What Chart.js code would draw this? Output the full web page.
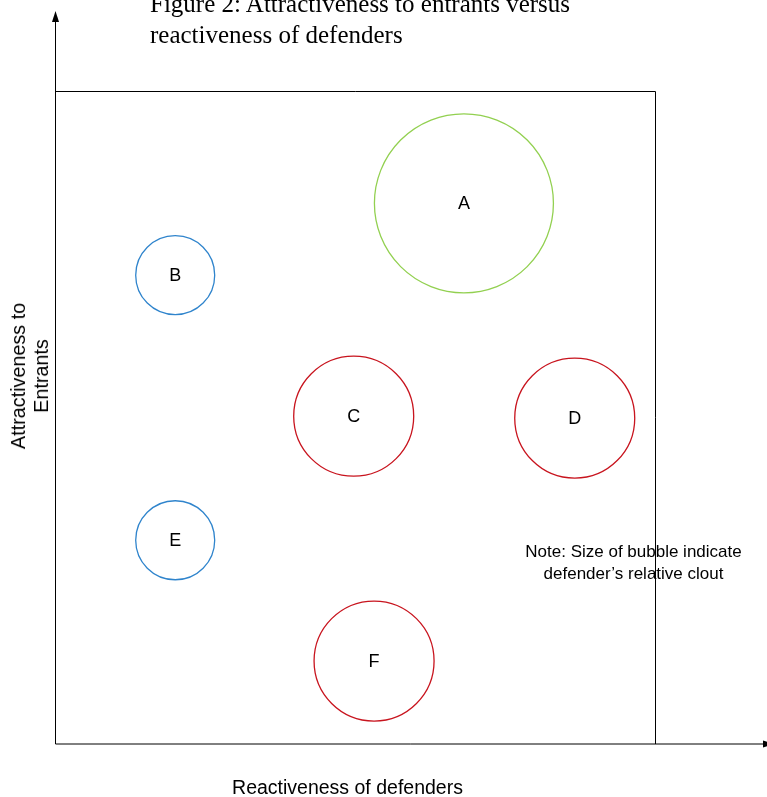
<!DOCTYPE html>
<html>
<head>
<meta charset="utf-8">
<script src="https://cdn.jsdelivr.net/npm/chart.js@4"></script>
<style>
  html, body { margin: 0; padding: 0; background: #ffffff; }
  #wrap { position: relative; width: 767px; height: 797px; overflow: hidden; background: #fff; }
  #chart { position: absolute; left: 0; top: 0; }
  .txt { position: absolute; color: #000; white-space: nowrap; }
  #title { left: 150px; top: -12px; font: 25px "Liberation Serif", "Times New Roman", serif; line-height: 31px; }
  #note { left: 633.5px; top: 541px; transform: translateX(-50%); font: 17px "Liberation Sans", Arial, sans-serif; line-height: 22px; text-align: center; }
  #xtitle { left: 347.5px; top: 775px; transform: translateX(-50%); font: 19.5px "Liberation Sans", Arial, sans-serif; line-height: 24px; }
  #ytitle { left: 30px; top: 376px; transform: translate(-50%, -50%) rotate(-90deg); font: 19.8px "Liberation Sans", Arial, sans-serif; line-height: 23px; text-align: center; }
</style>
</head>
<body>
<div id="wrap">
  <canvas id="chart" width="767" height="797"></canvas>
  <div class="txt" id="title">Figure 2: Attractiveness to entrants versus<br>reactiveness of defenders</div>
  <div class="txt" id="note">Note: Size of bubble indicate<br>defender’s relative clout</div>
  <div class="txt" id="xtitle">Reactiveness of defenders</div>
  <div class="txt" id="ytitle">Attractiveness to<br>Entrants</div>
</div>
<script>
// ---- data ----
const labels = ['A', 'B', 'C', 'D', 'E', 'F'];
const reactiveness = [68.1, 19.9, 49.7, 86.6, 19.9, 53.1];     // x
const attractiveness = [82.8, 71.8, 50.2, 49.9, 31.2, 12.7];   // y
const clout = [89.5, 39.5, 60, 60, 39.5, 60];                  // bubble radius
const group = ['green', 'blue', 'red', 'red', 'blue', 'red'];

// ---- styles ----
const palette = { green: '#92D050', blue: '#2F84CC', red: '#C8141E' };

const points = labels.map((l, i) => ({ x: reactiveness[i], y: attractiveness[i], r: clout[i], label: l }));

const framePlugin = {
  id: 'frame',
  beforeDatasetsDraw(chart) {
    const { ctx, chartArea: a } = chart;
    ctx.save();
    ctx.strokeStyle = '#000';
    ctx.lineWidth = 1;
    // box
    ctx.beginPath();
    ctx.moveTo(a.left, a.top + 0.5);
    ctx.lineTo(a.right + 0.5, a.top + 0.5);
    ctx.lineTo(a.right + 0.5, a.bottom);
    ctx.stroke();
    // y axis
    ctx.beginPath();
    ctx.moveTo(a.left - 0.5, a.bottom);
    ctx.lineTo(a.left - 0.5, 20);
    ctx.stroke();
    // x axis
    ctx.beginPath();
    ctx.moveTo(a.left - 0.5, a.bottom);
    ctx.lineTo(765, a.bottom);
    ctx.stroke();
    // arrow heads
    ctx.fillStyle = '#000';
    ctx.beginPath();
    ctx.moveTo(a.left - 0.5, 11);
    ctx.lineTo(a.left - 4, 22);
    ctx.lineTo(a.left + 3, 22);
    ctx.closePath();
    ctx.fill();
    ctx.beginPath();
    ctx.moveTo(775, a.bottom);
    ctx.lineTo(763, a.bottom - 3.5);
    ctx.lineTo(763, a.bottom + 3.5);
    ctx.closePath();
    ctx.fill();
    ctx.restore();
  }
};

const labelPlugin = {
  id: 'bubbleLabels',
  afterDatasetsDraw(chart) {
    const { ctx } = chart;
    const meta = chart.getDatasetMeta(0);
    ctx.save();
    ctx.fillStyle = '#000';
    ctx.font = '18px "Liberation Sans", Arial, sans-serif';
    ctx.textAlign = 'center';
    ctx.textBaseline = 'middle';
    meta.data.forEach((el, i) => {
      ctx.fillText(chart.data.datasets[0].data[i].label, el.x, el.y + 1);
    });
    ctx.restore();
  }
};

new Chart(document.getElementById('chart'), {
  type: 'bubble',
  data: {
    datasets: [{
      data: points,
      backgroundColor: 'rgba(0,0,0,0)',
      borderColor: group.map(g => palette[g]),
      borderWidth: 1.3,
      hoverBorderWidth: 1.3,
      hoverRadius: 0
    }]
  },
  options: {
    responsive: false,
    animation: false,
    events: [],
    clip: false,
    layout: { autoPadding: false, padding: { left: 56, top: 91, right: 112, bottom: 53 } },
    plugins: { legend: { display: false }, tooltip: { enabled: false }, title: { display: false } },
    scales: {
      x: { type: 'linear', min: 0, max: 100, display: false },
      y: { type: 'linear', min: 0, max: 100, display: false }
    }
  },
  plugins: [framePlugin, labelPlugin]
});
</script>
</body>
</html>
